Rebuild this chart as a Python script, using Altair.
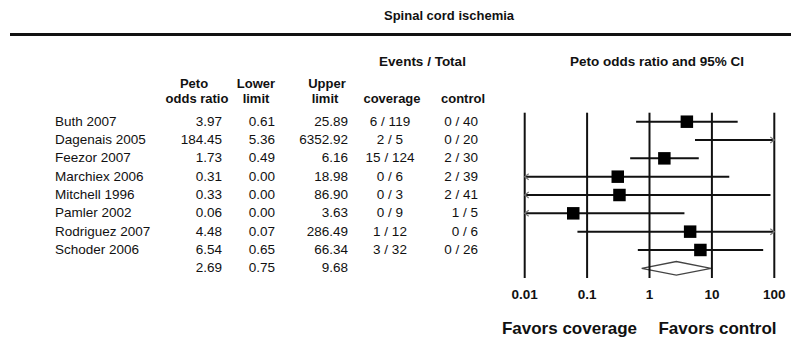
import altair as alt
import pandas as pd

# ---------------- data ----------------
studies = ["Buth 2007", "Dagenais 2005", "Feezor 2007", "Marchiex 2006",
           "Mitchell 1996", "Pamler 2002", "Rodriguez 2007", "Schoder 2006"]
odds_ratio = [3.97, 184.45, 1.73, 0.31, 0.33, 0.06, 4.48, 6.54]
lower = [0.61, 5.36, 0.49, 0.00, 0.00, 0.00, 0.07, 0.65]
upper = [25.89, 6352.92, 6.16, 18.98, 86.90, 3.63, 286.49, 66.34]
coverage = ["6 / 119", "2 / 5", "15 / 124", "0 / 6", "0 / 3", "0 / 9", "1 / 12", "3 / 32"]
control = ["0 / 40", "0 / 20", "2 / 30", "2 / 39", "2 / 41", "1 / 5", "0 / 6", "0 / 26"]
summary_or = 2.69
summary_lower = 0.75
summary_upper = 9.68
ticks = [0.01, 0.1, 1, 10, 100]
tick_labels = ["0.01", "0.1", "1", "10", "100"]

# ---------------- styling constants ----------------
FONT = "Liberation Sans"
FS = 13.5
XMIN, XMAX = 0.01, 100
DIAMOND_HALF = 0.37  # in row units

n = len(studies)
table = pd.DataFrame({
    "row": list(range(n + 1)),
    "name": studies + [""],
    "or": [f"{v:.2f}" for v in odds_ratio + [summary_or]],
    "lo": [f"{v:.2f}" for v in lower + [summary_lower]],
    "hi": [f"{v:.2f}" for v in upper + [summary_upper]],
    "cov": coverage + [""],
    "ctl": control + [""],
})

forest = pd.DataFrame({
    "row": list(range(n)),
    "or": odds_ratio,
    "lo": [max(v, XMIN) for v in lower],
    "hi": [min(v, XMAX) for v in upper],
})
# point estimates that fall inside the plotted range
points = forest[(forest["or"] >= XMIN) & (forest["or"] <= XMAX)]

arrows_left = pd.DataFrame({"row": [i for i in range(n) if lower[i] < XMIN],
                            "x": [XMIN for i in range(n) if lower[i] < XMIN]})
arrows_right = pd.DataFrame({"row": [i for i in range(n) if upper[i] > XMAX],
                             "x": [XMAX for i in range(n) if upper[i] > XMAX]})

diamond = pd.DataFrame({
    "x": [summary_lower, summary_or, summary_upper],
    "y": [n, n - DIAMOND_HALF, n],
    "y2": [n, n + DIAMOND_HALF, n],
})

grid = pd.DataFrame({"t": ticks, "label": tick_labels})
one = pd.DataFrame({"a": [0]})

yscale = alt.Scale(domain=[0, n], range=[113.7, 260.3], nice=False, zero=False)
xscale = alt.Scale(type="log", domain=[XMIN, XMAX], range=[516.7, 766.3], nice=False)
Y = alt.Y("row:Q", scale=yscale, axis=None)


def col_text(field, x, align, bold=False):
    return alt.Chart(table).mark_text(
        align=align, baseline="middle", font=FONT, fontSize=FS,
        fontWeight="bold" if bold else "normal", color="#111"
    ).encode(x=alt.value(x), y=Y, text=f"{field}:N")


def label(text, x, y, size=FS, align="center", bold=True):
    return alt.Chart(one).mark_text(
        text=text, align=align, baseline="middle", font=FONT, fontSize=size,
        fontWeight="bold" if bold else "normal", color="#111"
    ).encode(x=alt.value(x), y=alt.value(y))


layers = []

# title & top rule
layers.append(label("Spinal cord ischemia", 441, 8, size=13))
layers.append(alt.Chart(one).mark_rule(color="#111", strokeWidth=3).encode(
    x=alt.value(2), x2=alt.value(783), y=alt.value(26.5)))

# group headers
layers.append(label("Events / Total", 414.5, 54))
layers.append(label("Peto odds ratio and 95% CI", 649, 54))

# column headers
HS = 13
layers.append(label("Peto", 186, 76, size=HS))
layers.append(label("odds ratio", 189, 90.5, size=HS))
layers.append(label("Lower", 248, 76, size=HS))
layers.append(label("limit", 248, 90.5, size=HS))
layers.append(label("Upper", 319, 76, size=HS))
layers.append(label("limit", 317, 90.5, size=HS))
layers.append(label("coverage", 384, 90.5, size=HS))
layers.append(label("control", 455, 90.5, size=HS))

# table columns
layers.append(col_text("name", 47, "left"))
layers.append(col_text("or", 214, "right"))
layers.append(col_text("lo", 267, "right"))
layers.append(col_text("hi", 340, "right"))
layers.append(col_text("cov", 382, "center"))
layers.append(col_text("ctl", 470, "right"))

# diamond (summary)
layers.append(alt.Chart(diamond).mark_area(
    fill="white", stroke="#444", strokeWidth=1.3, orient="vertical"
).encode(
    x=alt.X("x:Q", scale=xscale, axis=None),
    y=alt.Y("y:Q", scale=yscale, axis=None),
    y2="y2:Q",
))

# grid lines
layers.append(alt.Chart(grid).mark_rule(color="#111", strokeWidth=2).encode(
    x=alt.X("t:Q", scale=xscale, axis=None),
    y=alt.value(104.7), y2=alt.value(270)))

# tick labels
layers.append(alt.Chart(grid).mark_text(
    baseline="middle", align="center", font=FONT, fontSize=FS,
    fontWeight="bold", color="#111"
).encode(x=alt.X("t:Q", scale=xscale, axis=None), y=alt.value(287), text="label:N"))

# CI lines
layers.append(alt.Chart(forest).mark_rule(color="#111", strokeWidth=2).encode(
    x=alt.X("lo:Q", scale=xscale, axis=None), x2="hi:Q", y=Y))

# arrow heads
layers.append(alt.Chart(arrows_left).mark_point(
    shape="M1,-0.75L0,0L1,0.75", filled=False, stroke="#777", strokeWidth=1.2,
    size=64, opacity=1
).encode(x=alt.X("x:Q", scale=xscale, axis=None), y=Y))
layers.append(alt.Chart(arrows_right).mark_point(
    shape="M-1,-0.75L0,0L-1,0.75", filled=False, stroke="#777", strokeWidth=1.2,
    size=64, opacity=1
).encode(x=alt.X("x:Q", scale=xscale, axis=None), y=Y))

# point estimates
layers.append(alt.Chart(points).mark_point(
    shape="square", filled=True, size=156, color="black", opacity=1
).encode(x=alt.X("or:Q", scale=xscale, axis=None), y=Y))

# favors labels
layers.append(label("Favors coverage", 561.5, 321, size=17))
layers.append(label("Favors control", 709.5, 321, size=17))

chart = alt.layer(*layers).properties(
    width=783, height=332, autosize="none", padding=0, background="white"
).configure_view(stroke=None)

chart.save("out.html", embed_options={"renderer": "svg", "actions": False})
